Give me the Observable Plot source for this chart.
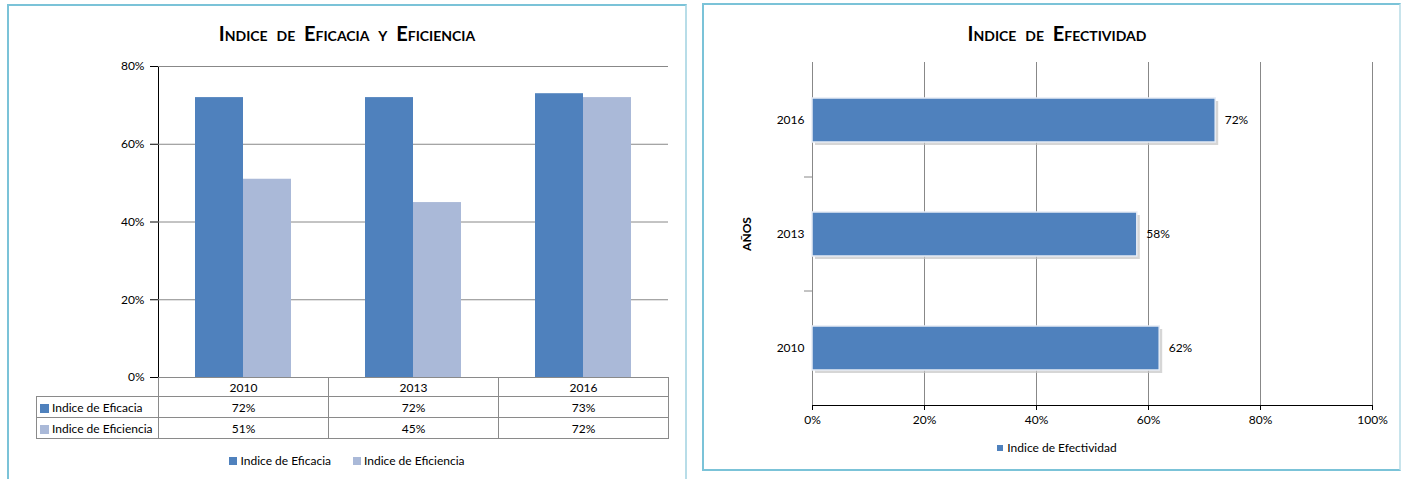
<!DOCTYPE html>
<html>
<head>
<meta charset="utf-8">
<script src="https://cdn.jsdelivr.net/npm/d3@7"></script>
<script src="https://cdn.jsdelivr.net/npm/@observablehq/plot@0.6"></script>
<style>
  html, body { margin: 0; padding: 0; background: #fff; }
  body { width: 1403px; height: 479px; position: relative; overflow: hidden; font-family: Lato, "Open Sans", sans-serif; color: #000; }
  .panel { position: absolute; box-sizing: border-box; border: 2px solid #7BC3D8; }
  .title { position: absolute; font-weight: bold; font-variant: small-caps; font-size: 20px; text-align: center; white-space: nowrap; word-spacing: 4px; }
  .abs { position: absolute; }
  table.dt { position: absolute; border-collapse: collapse; table-layout: fixed; font-size: 12px; }
  table.dt td { border: 1px solid #8a8a8a; padding: 0; text-align: center; white-space: nowrap; overflow: hidden; }
  table.dt td.lab { text-align: left; padding-left: 3px; }
  table.dt td.empty { border-top: none; border-left: none; }
  .sw { display: inline-block; width: 9px; height: 9px; margin-right: 3px; vertical-align: -1px; }
  .legend { position: absolute; font-size: 12px; white-space: nowrap; display: flex; justify-content: center; gap: 22px; }
  .legend span.item { display: inline-flex; align-items: center; }
  g[aria-label="y-axis label"] text, g[aria-label="y-axis label"] { font-weight: bold; }
</style>
</head>
<body>
<div class="panel" style="left:7px; top:4px; width:680px; height:490px; border-right-color:#B8DDE8;"></div>
<div class="panel" style="left:702px; top:3px; width:699px; height:468px; border-right-color:#C8E4EC;"></div>
<div class="title" style="left:7px; width:680px; top:21px;" id="t1"></div>
<div class="title" style="left:702px; width:710px; top:21px;" id="t2"></div>
<div id="leftChart" class="abs" style="left:0; top:50px;"></div>
<div id="rightChart" class="abs" style="left:703px; top:50px;"></div>
<table class="dt" id="dataTable" style="left:36px; top:377px;"></table>
<div class="legend" id="legend1" style="left:7px; width:680px; top:453px;"></div>
<div class="legend" id="legend2" style="left:702px; width:710px; top:440px;"></div>
<script>
// ---------- data ----------
const years = ["2010", "2013", "2016"];
const seriesNames = ["Indice de Eficacia", "Indice de Eficiencia"];
const eficacia = [72, 72, 73];
const eficiencia = [51, 45, 72];
const efectividadName = "Indice de Efectividad";
const efectividad = [62, 58, 72];
const leftTicks = [0, 20, 40, 60, 80];
const rightTicks = [0, 20, 40, 60, 80, 100];
const colors = ["#4F81BD", "#AAB9D8"];
const title1 = "Indice de Eficacia y Eficiencia";
const title2 = "Indice de Efectividad";
const yLabel2 = "AÑOS";

const pct = d => d + "%";

document.getElementById("t1").textContent = title1;
document.getElementById("t2").textContent = title2;

// ---------- left chart: grouped columns ----------
const leftData = [];
years.forEach((yr, i) => {
  leftData.push({year: yr, series: seriesNames[0], value: eficacia[i]});
  leftData.push({year: yr, series: seriesNames[1], value: eficiencia[i]});
});

const left = Plot.plot({
  width: 686,
  height: 340,
  marginLeft: 158,
  marginRight: 18,
  marginTop: 16,
  marginBottom: 13,
  style: {fontFamily: "Lato, 'Open Sans', sans-serif", fontSize: "12px", color: "#000", background: "transparent", overflow: "visible"},
  fx: {domain: years, padding: 0, axis: null},
  x: {domain: seriesNames, axis: null, paddingInner: 0, paddingOuter: 0.753},
  y: {domain: [0, 80], ticks: leftTicks, tickFormat: pct, tickSize: 8, tickPadding: 6, label: null, line: true},
  color: {domain: seriesNames, range: colors},
  marks: [
    Plot.gridY(leftTicks, {stroke: "#888", strokeOpacity: 1}),
    Plot.barY(leftData, {fx: "year", x: "series", y: "value", fill: "series"})
  ]
});
document.getElementById("leftChart").appendChild(left);

// data table
const tbl = document.getElementById("dataTable");
const colW = [122, 170, 170, 170];
const cg = document.createElement("colgroup");
colW.forEach(w => { const c = document.createElement("col"); c.style.width = w + "px"; cg.appendChild(c); });
tbl.appendChild(cg);
tbl.style.width = colW.reduce((a, b) => a + b, 0) + "px";
{
  const tr = document.createElement("tr");
  tr.style.height = "19px";
  const e = document.createElement("td"); e.className = "empty"; tr.appendChild(e);
  years.forEach(y => { const td = document.createElement("td"); td.textContent = y; tr.appendChild(td); });
  tbl.appendChild(tr);
}
[eficacia, eficiencia].forEach((vals, si) => {
  const tr = document.createElement("tr");
  tr.style.height = "21px";
  const lab = document.createElement("td"); lab.className = "lab";
  const sw = document.createElement("span"); sw.className = "sw"; sw.style.background = colors[si];
  lab.appendChild(sw); lab.appendChild(document.createTextNode(seriesNames[si]));
  tr.appendChild(lab);
  vals.forEach(v => { const td = document.createElement("td"); td.textContent = pct(v); tr.appendChild(td); });
  tbl.appendChild(tr);
});

// legend 1
const lg1 = document.getElementById("legend1");
seriesNames.forEach((s, i) => {
  const it = document.createElement("span"); it.className = "item";
  const sw = document.createElement("span"); sw.className = "sw"; sw.style.background = colors[i]; sw.style.width = "8px"; sw.style.height = "8px";
  it.appendChild(sw); it.appendChild(document.createTextNode(s));
  lg1.appendChild(it);
});

// ---------- right chart: horizontal bars ----------
const rightData = years.map((yr, i) => ({year: yr, value: efectividad[i]}));
const yOrder = years.slice().reverse();

const boundaryTicks = (index, scales, values, dims) => {
  const y = scales.y, x = scales.x;
  const bw = typeof y.bandwidth === "function" ? y.bandwidth() : y.bandwidth;
  const st = typeof y.step === "function" ? y.step() : (y.step ?? bw);
  const x0 = x(0);
  const g = d3.create("svg:g").attr("stroke", "#888");
  const dom = y.domain ? y.domain() : yOrder;
  for (let i = 0; i < dom.length - 1; i++) {
    const yy = y(dom[i]) + bw + (st - bw) / 2;
    g.append("line").attr("x1", x0 - 8).attr("x2", x0).attr("y1", yy).attr("y2", yy);
  }
  return g.node();
};

const right = Plot.plot({
  width: 696,
  height: 390,
  marginLeft: 109,
  marginRight: 27,
  marginTop: 12,
  marginBottom: 35,
  style: {fontFamily: "Lato, 'Open Sans', sans-serif", fontSize: "12px", color: "#000", background: "transparent", overflow: "visible"},
  x: {domain: [0, 100], ticks: rightTicks, tickFormat: pct, tickSize: 5, tickPadding: 5, label: null, line: true},
  y: {domain: yOrder, paddingInner: 0.615, paddingOuter: 0.3075, tickSize: 0, tickPadding: 8, line: true,
      label: yLabel2, labelAnchor: "center", labelOffset: 70},
  marks: [
    Plot.gridX(rightTicks, {stroke: "#888", strokeOpacity: 1}),
    boundaryTicks,
    Plot.barX(rightData, {y: "year", x: "value", fill: "#C4C4C4", dx: 3, dy: 3, fillOpacity: 0.7}),
    Plot.barX(rightData, {y: "year", x: "value", fill: "#4F81BD", stroke: "#E6ECF5", strokeWidth: 1.5}),
    Plot.text(rightData, {y: "year", x: "value", text: d => pct(d.value), dx: 9, textAnchor: "start", fontSize: 12})
  ]
});
document.getElementById("rightChart").appendChild(right);

// legend 2
const lg2 = document.getElementById("legend2");
{
  const it = document.createElement("span"); it.className = "item";
  const sw = document.createElement("span"); sw.className = "sw"; sw.style.background = colors[0]; sw.style.width = "6px"; sw.style.height = "6px"; sw.style.marginRight = "4px";
  it.appendChild(sw); it.appendChild(document.createTextNode(efectividadName));
  lg2.appendChild(it);
}
</script>
</body>
</html>
